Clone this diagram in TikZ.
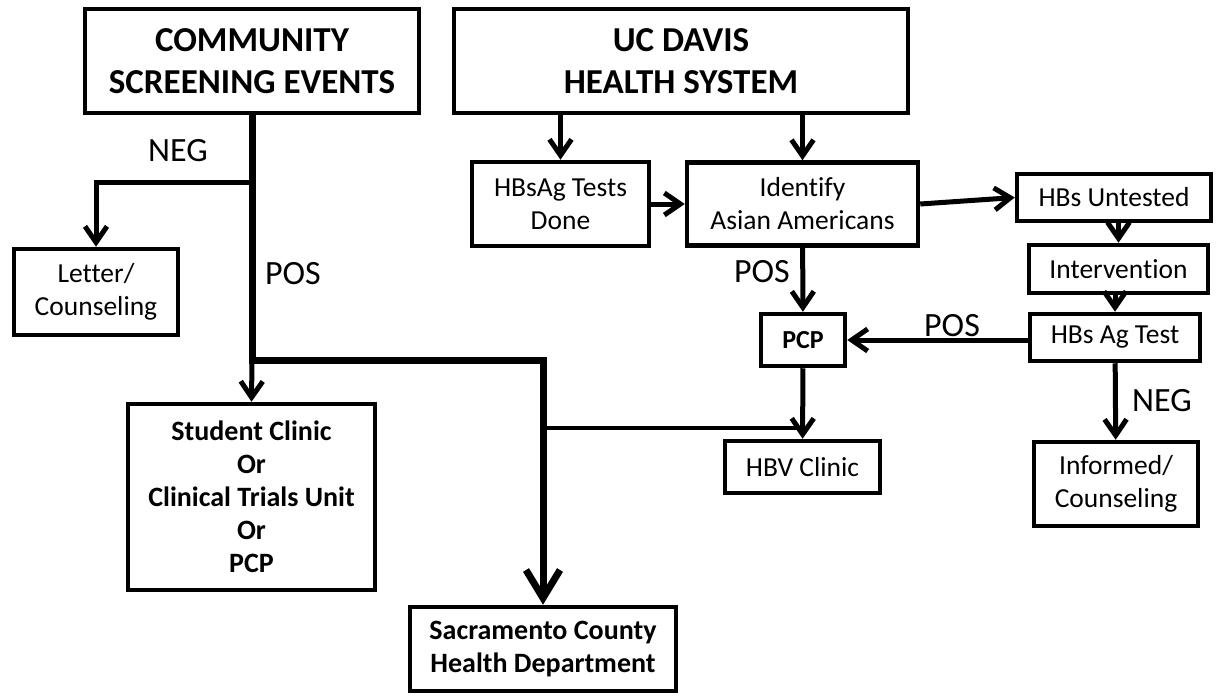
\documentclass[tikz,border=0pt]{standalone}
\usepackage{fontspec}
\setmainfont{Carlito}[Ligatures=NoCommon]
\usetikzlibrary{positioning, calc, arrows.meta}

\begin{document}
\begin{tikzpicture}[x=1pt, y=-1pt, >={Straight Barb[length=16pt,width=22pt]}]
        % Define block styles
        \tikzstyle{block} = [rectangle, draw, line width=4.5pt, align=center, inner sep=0pt, font=\fontsize{27.5}{33}\selectfont]
        \tikzstyle{head} = [block, font=\fontsize{35}{42}\selectfont\bfseries]
        \tikzstyle{boldblock} = [block, font=\fontsize{28}{33}\selectfont\bfseries]
        \tikzstyle{line} = [draw, line width=5pt]
        \tikzstyle{lab} = [inner sep=0pt, font=\fontsize{34}{40}\selectfont]

        \useasboundingbox (0,0) rectangle (1220,698);

        % Place nodes
        \node [head, minimum width=334, minimum height=104] (community) at (252,61) {COMMUNITY\\SCREENING EVENTS};
        \node [head, minimum width=454, minimum height=104] (ucdavis) at (681,61) {UC DAVIS\\HEALTH SYSTEM};
        \node [block, minimum width=177, minimum height=84] (tests_done) at (560.5,204) {HBsAg Tests\\Done};
        \node [block, minimum width=231, minimum height=83] (identify) at (802.5,204) {Identify\\Asian Americans};
        \node [block, minimum width=194, minimum height=47] (untested) at (1114,197.5) {HBs Untested};
        \node [block, minimum width=179, minimum height=48] (intervention) at (1118.5,269) {Intervention};
        \node [block, minimum width=170, minimum height=47] (ag_test) at (1115,337.5) {HBs Ag Test};
        \node [block, minimum width=164, minimum height=84] (informed) at (1116,484) {Informed/\\Counseling};
        \node [boldblock, font=\fontsize{26}{30}\selectfont\bfseries, minimum width=84, minimum height=52] (pcp) at (803,340) {PCP};
        \node [block, minimum width=155, minimum height=52] (hbv_clinic) at (802.5,467) {HBV Clinic};
        \node [block, minimum width=164, minimum height=86] (letter) at (96,292) {Letter/\\Counseling};
        \node [boldblock, minimum width=247, minimum height=186] (student) at (251.5,497) {Student Clinic\\Or\\Clinical Trials Unit\\Or\\PCP};
        \node [boldblock, minimum width=266, minimum height=84] (sacramento) at (543,649) {Sacramento County\\Health Department};

        % Branch points
        \coordinate (neg_split) at (252,182);
        \coordinate (pos_split) at (252,360);
        \coordinate (hbv_split) at (543,428);

        % Draw connections as arrows
        \draw [->, line width=7pt, >={Straight Barb[length=28pt,width=34pt]}] (community.south) -- (pos_split) -| (sacramento.north);
        \draw [->, line] (neg_split) -| (letter.north);
        \draw [->, line] (pos_split) -- (student.north);
        \draw [line width=4pt] (hbv_split) -- (hbv_split -| hbv_clinic.north);
        \draw [->, line] (ucdavis.south -| tests_done.north) -- (tests_done.north);
        \draw [->, line] (ucdavis.south -| identify.north) -- (identify.north);
        \draw [->, line] (tests_done) -- (identify);
        \draw [->, line] (identify.east) -- (untested.west);
        \draw [->, line] (untested.south -| intervention.north) -- (intervention.north);
        \draw [->, line] (intervention.south -| ag_test.north) -- (ag_test.north);
        \draw [->, line] (ag_test) -- (informed);
        \draw [->, line] (identify) -- (pcp);
        \draw [->, line] (ag_test.west |- pcp.east) -- (pcp.east);
        \draw [->, line] (pcp) -- (hbv_clinic);

        % Add text on the arrows
        \node [lab] (neg_letter) at (178,151) {NEG};
        \node [lab] (pos_student) at (293,274) {POS};
        \node [lab] (pos_identify) at (762,272) {POS};
        \node [lab] (pos_test) at (952,326) {POS};
        \node [lab] (neg_informed) at (1162,401) {NEG};
    \end{tikzpicture}
\end{document}
